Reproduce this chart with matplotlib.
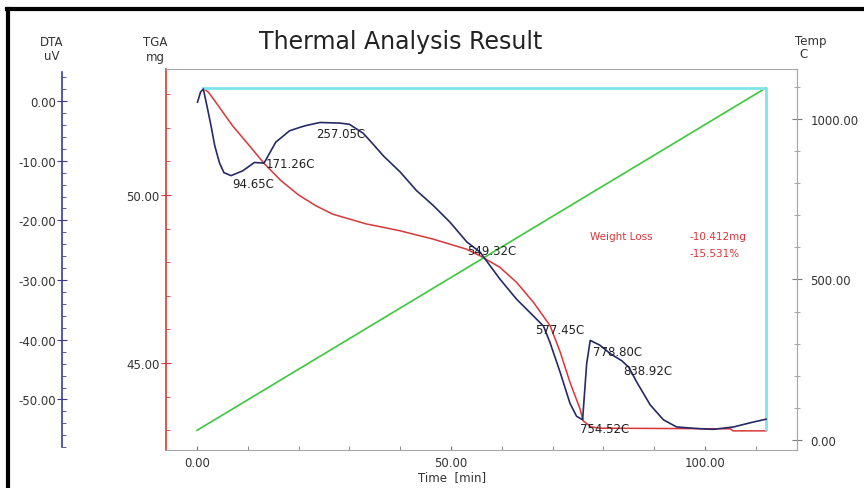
import matplotlib
matplotlib.use('Agg')
import matplotlib.pyplot as plt
from matplotlib.lines import Line2D
from matplotlib.ticker import MultipleLocator, FuncFormatter

# ----------------------------------------------------------------------------------------------------------------------
# DTA curve (uV) vs time (min)
dta_t = [0.1, 0.7, 1.25, 2.0, 2.75, 3.5, 4.4, 5.3, 6.7, 9.0, 11.3, 13.2, 15.5, 18.2, 20.3, 21.5, 24.2, 28.1, 30.0,
         32.7, 34.0, 36.7, 40.0, 43.2, 46.5, 49.8, 53.1, 55.7, 59.6, 62.9, 66.2, 68.2, 69.5, 71.5, 73.4, 74.7, 75.9,
         76.7, 77.4, 79.3, 81.3, 83.6, 85.0, 86.5, 89.2, 91.8, 94.4, 99.0, 101.6, 105.6, 108.9, 112.0]
dta_v = [-0.2, 1.5, 2.0, -1.0, -4.1, -7.5, -10.3, -12.0, -12.5, -11.7, -10.3, -10.4, -6.9, -5.0, -4.4, -4.1, -3.6,
         -3.7, -3.9, -5.4, -6.6, -9.2, -11.9, -15.0, -17.5, -20.3, -23.6, -25.3, -29.8, -33.2, -36.0, -37.7, -40.5,
         -45.5, -50.6, -52.8, -53.4, -44.0, -40.1, -40.9, -42.3, -43.5, -44.6, -47.0, -50.9, -53.4, -54.6, -54.9,
         -55.0, -54.6, -53.9, -53.3]

# TGA curve (mg) vs time (min)
tga_t = [1.25, 2.3, 3.7, 7.0, 10.3, 13.2, 16.5, 20.0, 23.4, 26.7, 33.3, 39.8, 46.4, 53.0, 55.7, 59.6, 62.9, 66.2,
         69.5, 71.5, 73.4, 75.4, 76.0, 77.5, 79.3, 105.0, 105.5, 112.0]
tga_m = [53.18, 53.05, 52.76, 52.06, 51.47, 50.94, 50.43, 50.0, 49.68, 49.43, 49.14, 48.94, 48.69, 48.39, 48.19,
         47.85, 47.40, 46.81, 46.11, 45.32, 44.43, 43.63, 43.28, 43.1, 43.06, 43.04, 42.98, 42.98]

# temperature (C) vs time (min)
temp_t = [0.0, 112.0]
temp_c = [30, 1097]
prog_t = [1.2, 112.0, 112.0]
prog_c = [1097, 1097, 34]

# peak labels on DTA
peak_labels = ['94.65C', '171.26C', '257.05C', '549.32C', '577.45C', '778.80C', '838.92C', '754.52C']
peak_t = [6.9, 13.6, 23.4, 53.1, 66.5, 78.0, 83.9, 75.4]
peak_v = [-13.9, -10.4, -5.4, -25.1, -38.2, -41.9, -45.2, -54.8]

weight_loss = ['-10.412mg', '-15.531%']
# ----------------------------------------------------------------------------------------------------------------------
plt.rcParams['font.family'] = ['DejaVu Sans']
plt.rcParams['axes.unicode_minus'] = False

fmt = FuncFormatter(lambda v, p: f'{v:.2f}')
c_blue = '#3b3c96'
c_red = '#d9363a'
c_gray = '#a8a8a8'
c_text = '#333333'

fig = plt.figure(figsize=(8.64, 4.89), dpi=100)
ax = fig.add_axes([166 / 864, 38 / 489, 631 / 864, 381 / 489])
ax_dta = ax.twinx()
ax_tmp = ax.twinx()

# TGA host axis
ax.set_xlim(-6.1, 118.1)
ax.set_ylim(42.41, 53.75)
ax.spines['left'].set_color(c_red)
ax.spines['left'].set_linewidth(1.2)
for s in ['top', 'bottom', 'right']:
    ax.spines[s].set_color(c_gray)
ax.xaxis.set_major_locator(MultipleLocator(50))
ax.xaxis.set_minor_locator(MultipleLocator(10))
ax.yaxis.set_major_locator(MultipleLocator(5))
ax.yaxis.set_minor_locator(MultipleLocator(1))
ax.xaxis.set_major_formatter(fmt)
ax.yaxis.set_major_formatter(fmt)
ax.tick_params(axis='x', which='both', direction='in', length=3, color='#777777', labelsize=8.5,
               labelcolor=c_text, pad=4)
ax.tick_params(axis='y', which='major', direction='inout', length=7, color=c_red, labelsize=8.5,
               labelcolor=c_text, pad=1)
ax.tick_params(axis='y', which='minor', direction='in', length=3, color=c_red)

# DTA axis
ax_dta.set_ylim(-58.46, 5.36)
ax_dta.spines['left'].set_position(('axes', -0.1648))
ax_dta.spines['left'].set_visible(True)
ax_dta.spines['left'].set_color(c_blue)
ax_dta.spines['left'].set_linewidth(1.2)
ax_dta.spines['left'].set_bounds(-57.9, 4.8)
for s in ['top', 'bottom', 'right']:
    ax_dta.spines[s].set_visible(False)
ax_dta.yaxis.set_label_position('left')
ax_dta.yaxis.set_ticks_position('left')
ax_dta.yaxis.set_major_locator(MultipleLocator(10))
ax_dta.yaxis.set_minor_locator(MultipleLocator(2))
ax_dta.yaxis.set_major_formatter(fmt)
ax_dta.tick_params(axis='y', which='major', direction='inout', length=7, color=c_blue, labelsize=8.5,
                   labelcolor=c_text, pad=1)
ax_dta.tick_params(axis='y', which='minor', direction='in', length=3, color=c_blue)

# temperature axis
ax_tmp.set_ylim(-31.2, 1155.8)
for s in ['top', 'bottom', 'left']:
    ax_tmp.spines[s].set_visible(False)
ax_tmp.spines['right'].set_color(c_gray)
ax_tmp.yaxis.set_major_locator(MultipleLocator(500))
ax_tmp.yaxis.set_minor_locator(MultipleLocator(100))
ax_tmp.yaxis.set_major_formatter(fmt)
ax_tmp.tick_params(axis='y', which='major', direction='inout', length=7, color='#777777', labelsize=8.5,
                   labelcolor=c_text, pad=6)
ax_tmp.tick_params(axis='y', which='minor', direction='inout', length=4, color='#999999')

# curves
ax_tmp.plot(temp_t, temp_c, color='#3cc83c', lw=1.2)
ax_tmp.plot(prog_t, prog_c, color='#7fe3ea', lw=2.0)
ax.plot(tga_t, tga_m, color=c_red, lw=1.1)
ax_dta.plot(dta_t, dta_v, color='#262a66', lw=1.2)
ax_dta.set_zorder(ax_tmp.get_zorder() + 1)

for lab, t, v in zip(peak_labels, peak_t, peak_v):
    ax_dta.text(t, v, lab, fontsize=8.5, color='#222222', ha='left', va='center')

ax.text(0.672, 0.562, 'Weight Loss', transform=ax.transAxes, fontsize=7.5, color=c_red, va='center')
ax.text(0.830, 0.562, weight_loss[0], transform=ax.transAxes, fontsize=7.5, color=c_red, va='center')
ax.text(0.830, 0.517, weight_loss[1], transform=ax.transAxes, fontsize=7.5, color=c_red, va='center')

# header texts
fig.text(401 / 864, 1 - 42 / 489, 'Thermal Analysis Result', fontsize=17, color='#222222', ha='center', va='center')
fig.text(452 / 864, 1 - 478 / 489, 'Time  [min]', fontsize=8.5, color=c_text, ha='center', va='center')
fig.text(52 / 864, 1 - 43 / 489, 'DTA', fontsize=8.5, color=c_text, ha='center', va='center')
fig.text(52 / 864, 1 - 56 / 489, 'uV', fontsize=8.5, color=c_text, ha='center', va='center')
fig.text(155 / 864, 1 - 43 / 489, 'TGA', fontsize=8.5, color=c_text, ha='center', va='center')
fig.text(155 / 864, 1 - 57 / 489, 'mg', fontsize=8.5, color=c_text, ha='center', va='center')
fig.text(811 / 864, 1 - 42 / 489, 'Temp', fontsize=8.5, color=c_text, ha='center', va='center')
fig.text(804 / 864, 1 - 55 / 489, 'C', fontsize=8.5, color=c_text, ha='center', va='center')

# black frame (left and top)
fig.add_artist(Line2D([8 / 864, 8 / 864], [0, 1 - 10 / 489], transform=fig.transFigure, color='black', lw=3))
fig.add_artist(Line2D([7 / 864, 1], [1 - 10 / 489, 1 - 10 / 489], transform=fig.transFigure, color='black', lw=3))

fig.savefig('out.png', dpi=100)
